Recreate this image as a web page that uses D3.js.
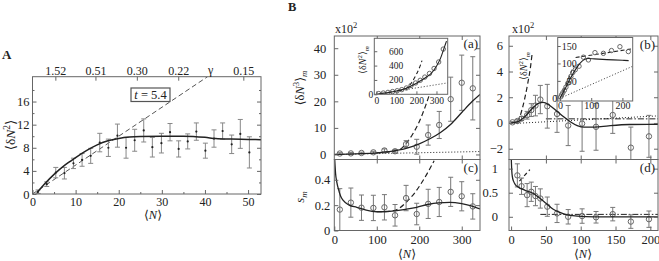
<!DOCTYPE html>
<html>
<head>
<meta charset="utf-8">
<title>Number fluctuations</title>
<style>
  body { margin: 0; background: #fff; }
  svg text { font-family: "Liberation Serif", "DejaVu Serif", serif; fill: #222; }
</style>
</head>
<body>
<svg id="fig" width="659" height="261"></svg>
<script src="https://cdn.jsdelivr.net/npm/d3@7"></script>
<script>
// ---- panel A : variance vs mean number ----
var nA   = [1.3, 3.3, 5.4, 7.4, 9.5, 11.5, 13.5, 15.6, 17.6, 19.7, 21.7, 23.7, 25.8, 27.8, 29.9, 31.9, 33.9, 36.0, 38.0, 40.1, 42.1, 44.1, 46.2, 48.2, 50.3];
var varA = [0.4, 1.7, 3.7, 3.6, 5.3, 5.9, 6.6, 8.9, 8.0, 10.1, 8.0, 9.3, 11.0, 8.1, 8.8, 10.7, 7.8, 9.1, 10.8, 7.5, 9.6, 10.9, 8.6, 10.4, 7.2];
var errA = [0.3, 0.4, 0.9, 1.0, 0.9, 1.1, 1.3, 1.6, 1.5, 2.0, 1.8, 1.9, 2.0, 1.7, 1.7, 1.5, 1.4, 1.3, 1.5, 1.3, 1.5, 1.4, 1.6, 2.5, 2.7];
var fitA = [[1,0.2],[3,1.9],[5,3.4],[7.5,5.0],[10,6.3],[12.5,7.5],[15,8.5],[17.5,9.2],[20,9.6],[22.5,9.85],[25,9.95],[30,10.0],[35,10.0],[40,9.8],[42.5,9.6],[46,9.5],[50,9.45],[53,9.4]];
var poisA = [[0,0],[40.6,20.3]];
var gammaPos = [5.3, 14.6, 24.2, 33.8, 48.9];
var gammaLab = ["1.52", "0.51", "0.30", "0.22", "0.15"];

// ---- panel B (a),(c) ----
var nB    = [13, 39, 64, 92, 118, 143, 169, 194, 221, 247, 274, 300, 326];
var m3a   = [0.35, 0.4, 0.55, 0.8, 1.5, 1.2, 3.9, 2.9, 7.3, 11.1, 20.8, 27.0, 24.9];
var m3aErr= [0.3, 0.3, 0.3, 0.4, 0.6, 0.6, 1.3, 2.8, 3.8, 5.1, 8.3, 10.4, 11.9];
var fitM3a  = [[0,0],[50,0.25],[100,0.6],[150,1.6],[175,2.6],[200,4.0],[225,5.9],[250,8.3],[275,11.5],[300,15.8],[325,20.0],[343,22.6]];
var gaussM3a= [[100,0.6],[140,1.2],[155,1.9],[170,4.3],[185,7.8],[200,12.3],[215,18.4],[230,25.5]];
var poisM3a = [[0,0],[343,1.1]];
var sC    = [0.165, 0.22, 0.18, 0.178, 0.183, 0.12, 0.256, 0.13, 0.21, 0.225, 0.305, 0.27, 0.19];
var sCErr = [0.165, 0.115, 0.10, 0.10, 0.10, 0.085, 0.10, 0.085, 0.115, 0.115, 0.115, 0.115, 0.10];
var fitSC = [[1,0.56],[3,0.45],[6,0.38],[9.4,0.33],[15,0.27],[21,0.237],[35,0.2],[53,0.183],[75,0.16],[100,0.148],[125,0.15],[147,0.156],[170,0.168],[194,0.183],[220,0.205],[245,0.218],[272,0.222],[300,0.212],[320,0.197],[343,0.17]];
var gaussSC = [[100,0.148],[125,0.15],[150,0.17],[170,0.225],[190,0.3],[210,0.4],[235,0.55]];
// inset (a)
var nIa  = [12, 35, 58, 81, 104, 127, 150, 173, 196, 219, 242, 265, 288, 311, 334];
var m2a  = [10, 18, 27, 38, 50, 65, 88, 122, 158, 195, 240, 290, 360, 450, 630];
var fitM2a  = [[0,0],[50,20],[100,45],[150,85],[175,118],[200,155],[225,195],[250,240],[275,295],[300,390],[320,500],[340,660],[350,740]];
var gaussM2a= [[110,48],[140,70],[160,105],[180,180],[200,280],[215,370],[228,470]];
var poisM2a = [[0,0],[358,160]];

// ---- panel B (b),(d) ----
var nBb    = [2, 9, 15, 23, 29, 35, 42, 52, 66, 82, 102, 122, 146, 172, 198];
var m3b    = [0.05, 0.15, 0.34, 0.6, 1.0, 1.35, 1.82, 1.3, 0.7, -0.2, -0.05, -0.3, 0.62, -1.92, -1.04];
var m3bErr = [0.05, 0.1, 0.15, 0.3, 0.5, 0.8, 1.1, 1.7, 1.43, 1.56, 2.15, 1.82, 1.43, 1.6, 1.63];
var fitM3b  = [[0,0],[10,0.1],[20,0.5],[30,1.1],[40,1.55],[46,1.6],[55,1.38],[65,0.95],[75,0.5],[85,0.1],[95,-0.2],[105,-0.32],[120,-0.32],[140,-0.22],[170,-0.12],[211,-0.1]];
var gaussM3b= [[8,0.1],[12,0.4],[16,1.1],[20,2.0],[24,3.1],[28,4.4],[30,5.3]];
var poisM3b = [[0,-0.05],[211,0.55]];
var limM3b  = [[50,0.32],[211,0.32]];
var nD    = [9, 15, 23, 29, 35, 42, 52, 66, 82, 102, 122, 146, 172, 198];
var sD    = [0.86, 0.635, 0.45, 0.52, 0.43, 0.38, 0.21, 0.07, 0.0, 0.015, -0.01, 0.055, -0.1, -0.05];
var sDErr = [0.24, 0.17, 0.24, 0.2, 0.2, 0.2, 0.2, 0.19, 0.15, 0.15, 0.12, 0.14, 0.14, 0.17];
var fitSD = [[0.3,1.19],[1,0.95],[2,0.82],[3.5,0.74],[6,0.67],[10,0.62],[20,0.55],[30,0.5],[40,0.4],[50,0.28],[60,0.16],[70,0.09],[80,0.04],[95,0.015],[120,0.0],[211,0.0]];
var gaussSD = [[12,0.74],[27,0.98]];
var limSD   = [[42,0.05],[211,0.05]];
// inset (b)
var nIb  = [2, 5, 9, 14, 19, 25, 30, 35, 41, 49, 61, 75, 91, 112, 139, 165, 192, 219];
var m2b  = [4, 10, 16, 23, 32, 43, 52, 63, 74, 82, 92, 118, 110, 131, 129, 137, 148, 134];
var fitM2b   = [[0,0],[10,17],[20,34],[30,52],[40,68],[50,83],[60,96],[70,106],[80,112],[90,114],[110,113],[150,111],[200,109],[220,108]];
var gaussM2b = [[10,20],[45,95]];
var plateauM2b = [[50,117],[233,142]];
var poisM2b  = [[0,0],[233,92]];

var svg = d3.select("#fig");
svg.append("rect").attr("width", 659).attr("height", 261).attr("fill", "#fff");
var AX = "#666", INK = "#222";
var clipN = 0;

// bg: paint a white box first (insets sit on top of the main plots)
function panel(l, r, t, b, xd, yd, bg) {
  var x = d3.scaleLinear().domain(xd).range([l, r]);
  var y = d3.scaleLinear().domain(yd).range([b, t]);
  var id = "clip" + (clipN++);
  svg.append("clipPath").attr("id", id).append("rect")
     .attr("x", l).attr("y", t).attr("width", r - l).attr("height", b - t);
  if (bg) svg.append("rect").attr("x", l).attr("y", t).attr("width", r - l).attr("height", b - t).attr("fill", bg);
  return {x: x, y: y, l: l, r: r, t: t, b: b, plot: svg.append("g").attr("clip-path", "url(#" + id + ")")};
}
function frame(p) {
  svg.append("rect").attr("x", p.l).attr("y", p.t).attr("width", p.r - p.l).attr("height", p.b - p.t)
     .attr("fill", "none").attr("stroke", AX).attr("stroke-width", 1);
}
function axis(p, side, vals, o) {
  o = o || {};
  var gen = side == "bottom" ? d3.axisBottom(p.x) : side == "top" ? d3.axisTop(p.x)
          : side == "left" ? d3.axisLeft(p.y) : d3.axisRight(p.y);
  gen.tickValues(vals).tickSizeInner(-(o.size || 4)).tickSizeOuter(0).tickPadding(o.pad || 4)
     .tickFormat(o.fmt || function() { return ""; });
  var tr = side == "bottom" ? "translate(0," + p.b + ")" : side == "top" ? "translate(0," + p.t + ")"
         : side == "left" ? "translate(" + p.l + ",0)" : "translate(" + p.r + ",0)";
  var g = svg.append("g").attr("transform", tr).call(gen);
  g.select(".domain").remove();
  g.selectAll("line").attr("stroke", AX);
  g.selectAll("text").attr("font-family", "Liberation Serif, serif").attr("font-size", o.font || 12.5).attr("fill", INK);
  return g;
}
var num = d3.format("~g");
function curve(p, pts, o) {
  o = o || {};
  p.plot.append("path").datum(pts)
    .attr("d", d3.line().x(function(d) { return p.x(d[0]); }).y(function(d) { return p.y(d[1]); }).curve(d3.curveMonotoneX))
    .attr("fill", "none").attr("stroke", o.color || INK).attr("stroke-width", o.w || 1.3)
    .attr("stroke-dasharray", o.dash || null);
}
function errbars(p, xs, ys, es, o) {
  o = o || {};
  var cap = o.cap || 2.5;
  var g = p.plot.append("g").attr("stroke", o.color || "#777").attr("stroke-width", 1).attr("fill", "none");
  xs.forEach(function(xv, i) {
    var cx = p.x(xv), lo = p.y(ys[i] - es[i]), hi = p.y(ys[i] + es[i]);
    g.append("line").attr("x1", cx).attr("x2", cx).attr("y1", lo).attr("y2", hi);
    g.append("line").attr("x1", cx - cap).attr("x2", cx + cap).attr("y1", lo).attr("y2", lo);
    g.append("line").attr("x1", cx - cap).attr("x2", cx + cap).attr("y1", hi).attr("y2", hi);
  });
}
function rings(p, xs, ys, r) {
  p.plot.append("g").selectAll("circle").data(xs).join("circle")
    .attr("cx", function(d) { return p.x(d); }).attr("cy", function(d, i) { return p.y(ys[i]); })
    .attr("r", r || 2.7).attr("fill", "none").attr("stroke", "#666").attr("stroke-width", 1);
}
// <dN^k>_m label
function bracket(t, pow, sub, fs) {
  t.append("tspan").text("\u27E8\u03B4");
  t.append("tspan").attr("font-style", "italic").text("N");
  t.append("tspan").attr("font-size", fs * 0.7).attr("dy", -fs * 0.4).text(pow);
  t.append("tspan").attr("dy", fs * 0.4).text("\u27E9");
  if (sub) t.append("tspan").attr("font-size", fs * 0.7).attr("font-style", "italic").attr("dy", fs * 0.25).text(sub);
}
function vlabel(cx, cy, fs) {
  return svg.append("text").attr("transform", "translate(" + cx + "," + cy + ") rotate(-90)")
    .attr("text-anchor", "middle").attr("font-size", fs);
}
function nLabel(cx, y) {
  var t = svg.append("text").attr("x", cx).attr("y", y).attr("text-anchor", "middle").attr("font-size", 12.5);
  t.append("tspan").text("\u27E8");
  t.append("tspan").attr("font-style", "italic").text("N");
  t.append("tspan").text("\u27E9");
}

// ================= A =================
var pA = panel(32.5, 261, 76.7, 194, [0, 53], [0, 20.3]);
curve(pA, poisA, {color: "#555", w: 1, dash: "5,3"});
errbars(pA, nA, varA, errA, {color: "#888", cap: 2.5});
pA.plot.append("g").selectAll("circle").data(nA).join("circle")
  .attr("cx", function(d) { return pA.x(d); }).attr("cy", function(d, i) { return pA.y(varA[i]); })
  .attr("r", 1.1).attr("fill", INK);
curve(pA, fitA, {w: 1.5});
frame(pA);
axis(pA, "bottom", [0, 10, 20, 30, 40, 50], {fmt: num, pad: 3, font: 12});
axis(pA, "bottom", [5, 15, 25, 35, 45], {size: 2});
axis(pA, "left", [0, 4, 8, 12, 16], {fmt: num, pad: 3});
axis(pA, "left", [2, 6, 10, 14, 18], {size: 2});
axis(pA, "right", [0, 4, 8, 12, 16]);
axis(pA, "right", [2, 6, 10, 14, 18], {size: 2});
axis(pA, "top", gammaPos, {fmt: function(d, i) { return gammaLab[i]; }, pad: 2, font: 12});
svg.append("text").attr("x", pA.x(41.3)).attr("y", 74).attr("text-anchor", "middle").attr("font-size", 12).text("\u03B3");
svg.append("rect").attr("x", 131).attr("y", 88).attr("width", 39).attr("height", 13.5)
   .attr("fill", "#fff").attr("stroke", "#555").attr("stroke-width", 1.2);
var tt = svg.append("text").attr("x", 150.5).attr("y", 98.7).attr("text-anchor", "middle").attr("font-size", 12.5);
tt.append("tspan").attr("font-style", "italic").text("t");
tt.append("tspan").text(" = 5.4");
bracket(vlabel(15, 135, 13.5), "2", null, 13.5);
nLabel(153, 219);
svg.append("text").attr("x", 2).attr("y", 58.5).attr("font-family", "Liberation Sans, Arial, sans-serif")
   .attr("font-weight", "bold").attr("font-size", 13).text("A");
svg.append("text").attr("x", 288).attr("y", 11).attr("font-family", "Liberation Sans, Arial, sans-serif")
   .attr("font-weight", "bold").attr("font-size", 12.5).text("B");

// ================= B (a) =================
var pa = panel(334.3, 480, 36, 159.5, [0, 343], [-1.9, 44.6]);
curve(pa, poisM3a, {w: 1, dash: "1,2"});
curve(pa, gaussM3a, {w: 1.2, dash: "5,3"});
errbars(pa, nB, m3a, m3aErr);
rings(pa, nB, m3a);
curve(pa, fitM3a);
frame(pa);
axis(pa, "left", [0, 10, 20, 30, 40], {fmt: num, pad: 8});
axis(pa, "right", [0, 10, 20, 30, 40]);
axis(pa, "bottom", [100, 200, 300]);
axis(pa, "top", [100, 200, 300]);
var xa = svg.append("text").attr("x", 335).attr("y", 33).attr("font-size", 12);
xa.append("tspan").text("x10");
xa.append("tspan").attr("font-size", 8.5).attr("dy", -5).text("2");
svg.append("text").attr("x", 478).attr("y", 48).attr("text-anchor", "end").attr("font-size", 13).text("(a)");
bracket(vlabel(304, 88, 12.5), "3", "m", 12.5);

// inset (a)
var ia = panel(374.3, 447.7, 38.3, 94.3, [-10, 356], [0, 780], "#fff");
curve(ia, poisM2a, {w: 0.9, dash: "1,2"});
curve(ia, gaussM2a, {w: 1.1, dash: "4,2.5"});
rings(ia, nIa, m2a, 2.2);
curve(ia, fitM2a, {w: 1.1});
frame(ia);
axis(ia, "bottom", [0, 100, 200, 300], {fmt: num, pad: 3, size: 3, font: 9.5});
var la = axis(ia, "left", [0, 200, 400, 600], {fmt: num, size: 3, font: 9.5});
la.selectAll(".tick text").attr("x", function(d) { return d === 0 ? -1 : 29; });
bracket(vlabel(366, 60, 10), "2", "m", 10);

// ================= B (c) =================
var pc = panel(334.3, 480, 159.5, 230.5, [0, 343], [0, 0.56]);
curve(pc, gaussSC, {w: 1.2, dash: "5,3"});
errbars(pc, nB, sC, sCErr);
rings(pc, nB, sC);
curve(pc, fitSC);
frame(pc);
axis(pc, "left", [0, 0.2, 0.4], {fmt: num, pad: 4});
axis(pc, "right", [0.2, 0.4]);
axis(pc, "bottom", [0, 100, 200, 300], {fmt: num, pad: 4.5});
axis(pc, "top", [100, 200, 300]);
svg.append("text").attr("x", 478).attr("y", 172).attr("text-anchor", "end").attr("font-size", 13).text("(c)");
var sl = vlabel(304, 197, 12.5);
sl.append("tspan").attr("font-style", "italic").text("s");
sl.append("tspan").attr("font-style", "italic").attr("font-size", 9).attr("dy", 3).text("m");
nLabel(407, 258);

// ================= B (b) =================
var pb = panel(509, 658, 36, 159.5, [-3, 211], [-2.84, 6.76]);
curve(pb, poisM3b, {w: 1, dash: "1,2"});
curve(pb, limM3b, {w: 1, dash: "6,2,1.5,2"});
curve(pb, gaussM3b, {w: 1.2, dash: "5,3"});
errbars(pb, nBb, m3b, m3bErr);
rings(pb, nBb, m3b);
curve(pb, fitM3b);
frame(pb);
axis(pb, "left", [-2, 0, 2, 4, 6], {fmt: num, pad: 6});
axis(pb, "right", [-2, 0, 2, 4, 6]);
axis(pb, "bottom", [50, 100, 150, 200]);
axis(pb, "top", [50, 100, 150, 200]);
var xb = svg.append("text").attr("x", 512).attr("y", 33).attr("font-size", 12);
xb.append("tspan").text("x10");
xb.append("tspan").attr("font-size", 8.5).attr("dy", -5).text("2");
svg.append("text").attr("x", 655).attr("y", 49).attr("text-anchor", "end").attr("font-size", 13).text("(b)");

// inset (b)
var ib = panel(557.7, 632.7, 37.5, 101, [-7.4, 233], [-7.7, 174.4], "#fff");
curve(ib, poisM2b, {w: 0.9, dash: "1,2"});
curve(ib, gaussM2b, {w: 1.1, dash: "4,2.5"});
curve(ib, plateauM2b, {w: 1.1, dash: "4,2.5"});
rings(ib, nIb, m2b, 2.2);
curve(ib, fitM2b, {w: 1.1});
frame(ib);
axis(ib, "bottom", [0, 100, 200], {fmt: num, pad: 1, size: 3, font: 10});
var lb = axis(ib, "left", [0, 50, 100, 150], {fmt: num, size: 3, font: 10});
lb.selectAll(".tick text").attr("x", function(d) { return d === 0 ? -0.5 : 19; });
bracket(vlabel(527, 66, 10), "2", "m", 10);

// ================= B (d) =================
var pd = panel(509, 658, 159.5, 230.5, [-3, 211], [-0.285, 1.19]);
curve(pd, limSD, {w: 1, dash: "6,2,1.5,2"});
curve(pd, gaussSD, {w: 1.2, dash: "4,3"});
errbars(pd, nD, sD, sDErr);
rings(pd, nD, sD);
curve(pd, fitSD);
frame(pd);
axis(pd, "left", [0, 0.5, 1], {fmt: num, pad: 11});
axis(pd, "right", [0, 0.5, 1]);
axis(pd, "bottom", [0, 50, 100, 150, 200], {fmt: num, pad: 4.5});
axis(pd, "top", [50, 100, 150, 200]);
svg.append("text").attr("x", 655).attr("y", 172).attr("text-anchor", "end").attr("font-size", 13).text("(d)");
nLabel(583, 258);
</script>
</body>
</html>
